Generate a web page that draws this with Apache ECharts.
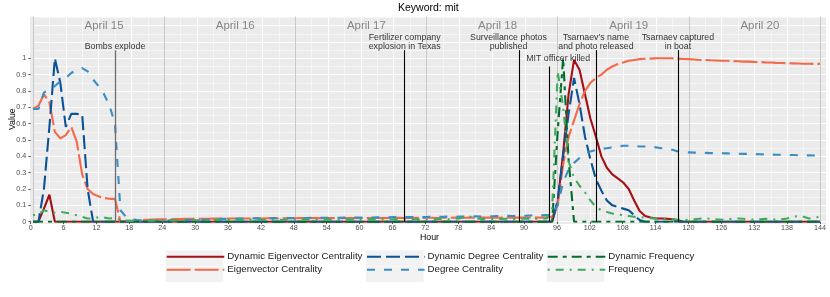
<!DOCTYPE html>
<html><head><meta charset="utf-8">
<script src="https://cdn.jsdelivr.net/npm/echarts@6/dist/echarts.min.js"></script>
<style>html,body{margin:0;padding:0;background:#fff}#c{width:830px;height:297px}</style>
</head><body><div id="c"></div>
<script>
// ---- data (index = hour 0..144) ----
const seriesNames = ['Dynamic Eigenvector Centrality','Eigenvector Centrality','Dynamic Degree Centrality','Degree Centrality','Dynamic Frequency','Frequency'];
const dynEigen = [
0,0,0.08,0.165,0,0,0,0,0,0,0,0,
0,0,0,0,0,0,0,0,0,0,0,0,
0,0,0,0,0,0,0,0,0,0,0,0,
0,0,0,0,0,0,0,0,0,0,0,0,
0,0,0,0,0,0,0,0,0,0,0,0,
0,0,0,0,0,0,0,0,0,0,0,0,
0,0,0,0,0,0,0,0,0,0,0,0,
0,0,0,0,0,0,0,0,0,0,0,0,
0.12,0.42,0.78,0.99,0.93,0.78,0.63,0.52,0.40,0.33,0.29,0.265,
0.24,0.20,0.13,0.065,0.035,0.025,0.02,0.02,0.018,0.015,0.008,0,
0,0,0,0,0,0,0,0,0,0,0,0,
0,0,0,0,0,0,0,0,0,0,0,0,
0];
const eigen = [
0.69,0.71,0.78,0.73,0.55,0.51,0.53,0.58,0.49,0.29,0.20,0.17,
0.155,0.145,0.14,0.14,0.0,0.005,0.006,0.008,0.01,0.012,0.013,0.014,
0.015,0.015,0.016,0.016,0.017,0.017,0.018,0.018,0.018,0.019,0.019,0.019,
0.02,0.02,0.02,0.02,0.02,0.021,0.02,0.021,0.021,0.02,0.021,0.021,
0.021,0.022,0.021,0.022,0.022,0.021,0.022,0.022,0.022,0.023,0.022,0.022,
0.023,0.022,0.023,0.023,0.022,0.023,0.023,0.024,0.023,0.023,0.024,0.023,
0.024,0.024,0.023,0.024,0.024,0.025,0.024,0.024,0.025,0.024,0.025,0.025,
0.025,0.024,0.025,0.025,0.026,0.025,0.025,0.026,0.026,0.025,0.027,0.03,
0.10,0.35,0.52,0.62,0.72,0.80,0.85,0.88,0.90,0.93,0.95,0.965,
0.975,0.985,0.99,0.995,0.997,0.998,1.0,1.0,1.0,1.0,0.998,0.996,
0.995,0.993,0.99,0.99,0.988,0.987,0.985,0.985,0.983,0.982,0.98,0.98,
0.978,0.977,0.975,0.974,0.972,0.971,0.97,0.969,0.968,0.967,0.967,0.966,
0.966];
const dynDegree = [
0,0,0.2,0.58,1.0,0.85,0.58,0.66,0.66,0.655,0.2,0,
0,0,0,0,0,0,0,0,0,0,0,0,
0,0,0,0,0,0,0,0,0,0,0,0,
0,0,0,0,0,0,0,0,0,0,0,0,
0,0,0,0,0,0,0,0,0,0,0,0,
0,0,0,0,0,0,0,0,0,0,0,0,
0,0,0,0,0,0,0,0,0,0,0,0,
0,0,0,0,0,0,0,0,0,0,0,0,
0.13,0.40,0.66,0.88,0.72,0.52,0.38,0.26,0.19,0.13,0.10,0.09,
0.08,0.07,0.04,0.01,0,0,0,0,0,0,0,0,
0,0,0,0,0,0,0,0,0,0,0,0,
0,0,0,0,0,0,0,0,0,0,0,0,
0];
const degree = [
0.69,0.69,0.79,0.81,0.83,0.86,0.88,0.91,0.93,0.94,0.92,0.87,
0.83,0.78,0.71,0.60,0.07,0.03,0.015,0.01,0.008,0.007,0.006,0.006,
0.007,0.008,0.008,0.009,0.01,0.01,0.011,0.012,0.013,0.015,0.016,0.017,
0.018,0.018,0.019,0.02,0.02,0.021,0.02,0.021,0.022,0.021,0.022,0.022,
0.023,0.022,0.023,0.024,0.023,0.024,0.024,0.025,0.024,0.025,0.025,0.026,
0.025,0.026,0.026,0.027,0.026,0.027,0.028,0.027,0.028,0.028,0.029,0.028,
0.029,0.03,0.029,0.03,0.031,0.03,0.031,0.032,0.031,0.033,0.032,0.034,
0.033,0.035,0.034,0.036,0.035,0.037,0.036,0.038,0.037,0.039,0.04,0.04,
0.10,0.24,0.32,0.36,0.39,0.41,0.43,0.44,0.445,0.45,0.455,0.46,
0.465,0.465,0.465,0.46,0.46,0.46,0.455,0.45,0.445,0.44,0.43,0.425,
0.424,0.423,0.422,0.421,0.42,0.42,0.419,0.418,0.417,0.416,0.415,0.415,
0.414,0.413,0.412,0.411,0.41,0.41,0.409,0.408,0.407,0.406,0.406,0.405,
0.405];
const dynFreq = [
0,0,0,0,0,0,0,0,0,0,0,0,
0,0,0,0,0,0,0,0,0,0,0,0,
0,0,0,0,0,0,0,0,0,0,0,0,
0,0,0,0,0,0,0,0,0,0,0,0,
0,0,0,0,0,0,0,0,0,0,0,0,
0,0,0,0,0,0,0,0,0,0,0,0,
0,0,0,0,0,0,0,0,0,0,0,0,
0,0,0,0,0,0,0,0,0,0,0,0,
0.55,1.0,0.38,0,0,0,0,0,0,0,0,0,
0,0,0,0,0,0,0,0,0,0,0,0,
0,0,0,0,0,0,0,0,0,0,0,0,
0,0,0,0,0,0,0,0,0,0,0,0,
0];
const freq = [
0.04,0.045,0.07,0.06,0.055,0.06,0.055,0.05,0.04,0.03,0.02,0.02,
0.028,0.025,0.02,0.022,0.01,0.006,0.005,0.005,0.006,0.006,0.007,0.007,
0.008,0.008,0.009,0.008,0.009,0.01,0.009,0.01,0.01,0.011,0.01,0.011,
0.011,0.01,0.012,0.011,0.012,0.012,0.011,0.012,0.013,0.012,0.012,0.013,
0.012,0.013,0.013,0.012,0.013,0.014,0.013,0.013,0.014,0.013,0.014,0.014,
0.013,0.014,0.015,0.014,0.014,0.015,0.014,0.015,0.015,0.014,0.015,0.016,
0.015,0.015,0.016,0.016,0.015,0.017,0.02,0.028,0.03,0.022,0.016,0.016,
0.017,0.016,0.017,0.018,0.017,0.018,0.018,0.019,0.018,0.02,0.02,0.08,
0.92,0.70,0.37,0.27,0.22,0.18,0.13,0.09,0.07,0.06,0.05,0.045,
0.04,0.035,0.03,0.028,0.025,0.022,0.02,0.02,0.018,0.015,0.012,0.01,
0.012,0.015,0.018,0.02,0.018,0.015,0.012,0.015,0.018,0.02,0.018,0.015,
0.012,0.015,0.018,0.015,0.012,0.015,0.02,0.03,0.035,0.03,0.02,0.025,
0.03];

const dayNames = ['April 15','April 16','April 17','April 18','April 19','April 20'];
const dayCenters = [13, 37, 61, 85, 109, 133];
const dayLabelY = 1.198;

const eventLabels = ['Bombs explode','Fertilizer company\nexplosion in Texas','Surveillance photos\npublished','MIT officer killed',"Tsarnaev's name\nand photo released",'Tsarnaev captured\nin boat'];
const eventHours = [15, 68, 89, 94.5, 103, 118];
const eventLineTops = [1.05, 1.05, 1.05, 0.95, 1.05, 1.05];
const eventLabelHours = [15, 68, 87, 96.1, 103, 118];
const eventLabelBottoms = [1.043, 1.043, 1.043, 0.968, 1.043, 1.043];

const xTickInterval = 6;
const yTickInterval = 0.1;

// ---- styling ----
const FONT = 'Liberation Sans, Arial, sans-serif';
const colors = ['#A50F15','#F4694A','#0B5394','#3A8DC5','#006D2C','#41AB5D'];
const dashes = ['solid',[24,4],[14,5],[8,9],[10,5,4,5],[2,6,8,6]];
const allValues = [dynEigen, eigen, dynDegree, degree, dynFreq, freq];

const chart = echarts.init(document.getElementById('c'), null, {renderer:'canvas'});

const lineSeries = allValues.map((vals, k) => ({
  name: seriesNames[k], type: 'line', xAxisIndex: 0, yAxisIndex: 0,
  data: vals.map((v, h) => [h, v]),
  showSymbol: false, symbol: 'none', smooth: false, clip: true,
  lineStyle: {color: colors[k], width: 2.1, type: dashes[k], cap: 'butt'},
  itemStyle: {color: colors[k]},
  z: 2, silent: true
}));

const annotSeries = {
  type: 'scatter', xAxisIndex: 0, yAxisIndex: 0, z: 5, silent: true,
  symbolSize: 1, itemStyle: {color: 'rgba(0,0,0,0)'},
  data: eventLabels.map((t, i) => ({name: t, value: [eventLabelHours[i], eventLabelBottoms[i]]})),
  label: {show: true, position: 'top', distance: 0, formatter: p => p.name,
          fontSize: 8.8, lineHeight: 8.6, color: '#000', fontFamily: FONT, align: 'center'},
  markLine: {
    silent: true, symbol: ['none','none'], label: {show: false}, animation: false,
    lineStyle: {color: '#000', width: 1.1, type: 'solid'},
    data: eventHours.map((h, i) => [
      {coord: [h, 0], lineStyle: i === 0 ? {color: '#6E6E6E', width: 1.3, type:'solid'} : undefined},
      {coord: [h, eventLineTops[i]]}
    ])
  }
};
const daySeries = {
  type: 'scatter', xAxisIndex: 0, yAxisIndex: 0, z: 4, silent: true,
  symbolSize: 1, itemStyle: {color: 'rgba(0,0,0,0)'},
  data: dayNames.map((t, i) => ({name: t, value: [dayCenters[i], dayLabelY]})),
  label: {show: true, position: 'inside', formatter: p => p.name,
          fontSize: 11.5, color: '#6A6A6A', fontFamily: FONT}
};

const legendCommon = {orient: 'vertical', top: 250.5, itemWidth: 57.6, itemHeight: 15.5, itemGap: 0.6,
  padding: 0, selectedMode: false,
  itemStyle: {opacity: 0, color: 'rgba(0,0,0,0)', borderWidth: 0},
  textStyle: {fontSize: 9.7, color: '#1A1A1A', fontFamily: FONT, padding: [0,0,0,-2]}};
const legendLefts = [165.7, 366, 546.7];
const keyBoxes = [];
legendLefts.forEach(l => { [250.5, 266.6].forEach(t => keyBoxes.push({type:'rect', left: l, top: t, shape:{width:57.6, height:15.5}, style:{fill:'#F2F2F2'}, z: -5, silent: true})); });

const option = {
  animation: false,
  backgroundColor: '#fff',
  textStyle: {fontFamily: FONT},
  title: {text: 'Keyword: mit', left: 398, top: 2.5, padding: 0,
          textStyle: {fontSize: 10.5, fontWeight: 'normal', color: '#000', fontFamily: FONT}},
  graphic: {elements: [
    {type: 'rect', left: 30, top: 16.6, shape: {width: 796, height: 207.4}, style: {fill: '#EBEBEB'}, z: -100, silent: true}
  ].concat(keyBoxes)},
  legend: [
    Object.assign({left: legendLefts[0], data: [seriesNames[0], seriesNames[1]]}, legendCommon),
    Object.assign({left: legendLefts[1], data: [seriesNames[2], seriesNames[3]]}, legendCommon),
    Object.assign({left: legendLefts[2], data: [seriesNames[4], seriesNames[5]]}, legendCommon)
  ],
  grid: [
    {left: 30.7, right: 4, top: 16.65, bottom: 75.3, containLabel: false},
    {left: 30.7, right: 10, top: 58.3, bottom: 75.3, containLabel: false}
  ],
  xAxis: [
    {type: 'value', gridIndex: 0, min: 0, max: 145.1, interval: xTickInterval,
     axisLine: {show: false}, axisTick: {show: false}, axisLabel: {show: false},
     splitLine: {show: true, lineStyle: {color: ['#C8C8C8','#FFFFFF','#FFFFFF','#FFFFFF'], width: 1}},
     name: 'Hour', nameLocation: 'middle', nameGap: 11.2,
     nameTextStyle: {fontSize: 8.8, color: '#000', fontFamily: FONT}},
    {type: 'value', gridIndex: 0, min: 0, max: 145.1, interval: xTickInterval / 2, show: true,
     axisLine: {show: false}, axisTick: {show: false}, axisLabel: {show: false},
     splitLine: {show: true, lineStyle: {color: '#FFFFFF', width: 0.5}}, z: -1},
    {type: 'value', gridIndex: 1, min: 0, max: 144, interval: xTickInterval,
     axisLine: {show: false}, splitLine: {show: false},
     axisTick: {show: true, length: 2.4, lineStyle: {color: '#333', width: 0.8}},
     axisLabel: {show: true, margin: 3.2, fontSize: 7.2, color: '#4D4D4D', fontFamily: FONT}}
  ],
  yAxis: [
    {type: 'value', gridIndex: 0, min: 0, max: 1.255, interval: yTickInterval,
     axisLine: {show: false}, axisTick: {show: false}, axisLabel: {show: false},
     splitLine: {show: true, lineStyle: {color: '#FFFFFF', width: 1}},
     name: 'Value', nameLocation: 'middle', nameGap: 16,
     nameTextStyle: {fontSize: 8.8, color: '#000', fontFamily: FONT}},
    {type: 'value', gridIndex: 0, min: 0, max: 1.255, interval: yTickInterval / 2,
     axisLine: {show: false}, axisTick: {show: false}, axisLabel: {show: false},
     splitLine: {show: true, lineStyle: {color: '#FFFFFF', width: 0.5}}, z: -1},
    {type: 'value', gridIndex: 1, min: 0, max: 1, interval: yTickInterval,
     axisLine: {show: false}, splitLine: {show: false},
     axisTick: {show: true, length: 2.4, lineStyle: {color: '#333', width: 0.8}},
     axisLabel: {show: true, margin: 4.5, fontSize: 7.2, color: '#4D4D4D', fontFamily: FONT}}
  ],
  series: lineSeries.concat([daySeries, annotSeries])
};
chart.setOption(option);
</script></body></html>
